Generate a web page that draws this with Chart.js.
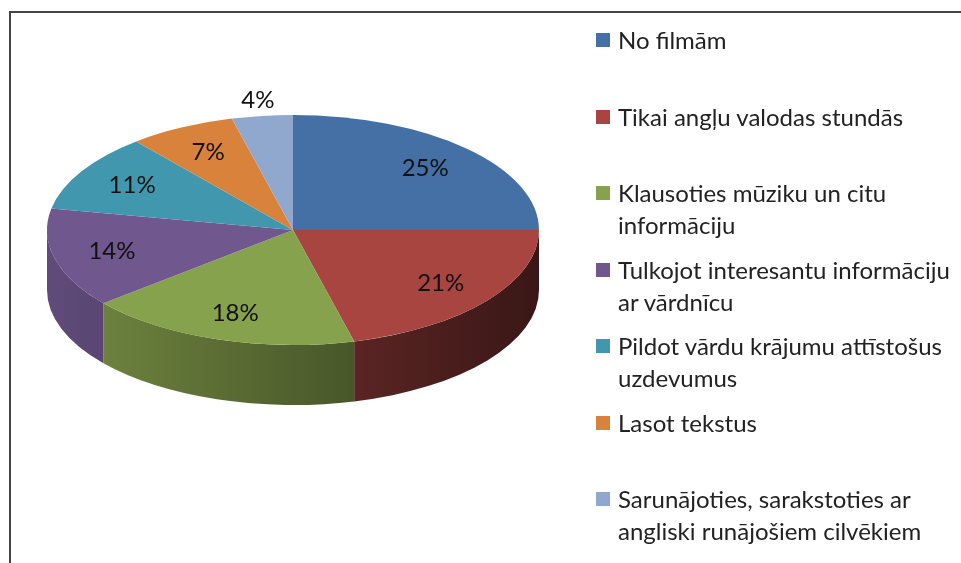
<!DOCTYPE html>
<html>
<head>
<meta charset="utf-8">
<script src="https://cdn.jsdelivr.net/npm/chart.js@4.4.1/dist/chart.umd.min.js"></script>
<style>
  body { margin: 0; background: #fff; }
  #wrap { position: relative; width: 961px; height: 563px; overflow: hidden; }
  #frame { position: absolute; left: 9px; top: 11px; right: -10px; bottom: -10px;
           border-top: 2px solid #444; border-left: 2px solid #444; }
  #pie { position: absolute; left: 0; top: 0; }
  #legend { position: absolute; left: 596px; top: 0; font-family: Lato, sans-serif;
            font-size: 24px; color: #222; }
  .item { position: absolute; left: 0; white-space: nowrap; line-height: 32px; }
  .sw { position: absolute; left: 0; top: 9px; width: 14px; height: 14px; }
  .txt { position: absolute; left: 22px; top: 0; }
</style>
</head>
<body>
<div id="wrap">
  <div id="frame"></div>
  <canvas id="pie" width="961" height="563"></canvas>
  <div id="legend"></div>
</div>
<script>
const categories = [
    ['No filmām'],
    ['Tikai angļu valodas stundās'],
    ['Klausoties mūziku un citu', 'informāciju'],
    ['Tulkojot interesantu informāciju', 'ar vārdnīcu'],
    ['Pildot vārdu krājumu attīstošus', 'uzdevumus'],
    ['Lasot tekstus'],
    ['Sarunājoties, sarakstoties ar', 'angliski runājošiem cilvēkiem']
];
const percents = [25, 21, 18, 14, 11, 7, 4];
const colors = ['#4470a6', '#a94541', '#87a24d', '#70578e', '#4197ae', '#d9823c', '#91a8ce'];

// where the tilted pie sits on the page
const TILT = { cx: 293, cy: 230, rx: 246, ry: 115, depth: 60 };

function shade(hex, f) {
    const n = parseInt(hex.slice(1), 16);
    const r = Math.round(((n >> 16) & 255) * f);
    const g = Math.round(((n >> 8) & 255) * f);
    const b = Math.round((n & 255) * f);
    return 'rgb(' + r + ',' + g + ',' + b + ')';
}

const tiltPlugin = {
    id: 'tilt',
    beforeDatasetsDraw(chart) {
        const ctx = chart.ctx;
        const arcs = chart.getDatasetMeta(0).data;
        const x = arcs[0].x, y = arcs[0].y, r = arcs[0].outerRadius;
        const sx = TILT.rx / r, sy = TILT.ry / r;
        ctx.save();
        ctx.translate(TILT.cx, TILT.cy);
        ctx.scale(sx, sy);
        ctx.translate(-x, -y);
        const D = TILT.depth / sy;
        // side walls, only the front half is visible
        arcs.forEach((arc, i) => {
            const a0 = Math.max(arc.startAngle, 0);
            const a1 = Math.min(arc.endAngle, Math.PI);
            if (a1 <= a0) return;
            const g = ctx.createLinearGradient(x - r, 0, x + r, 0);
            g.addColorStop(0, shade(colors[i], 0.86));
            g.addColorStop(1, shade(colors[i], 0.34));
            ctx.beginPath();
            ctx.arc(x, y, r, a0, a1);
            ctx.arc(x, y + D, r, a1, a0, true);
            ctx.closePath();
            ctx.fillStyle = g;
            ctx.fill();
        });
    },
    afterDatasetsDraw(chart) {
        const ctx = chart.ctx;
        ctx.restore();
        const arcs = chart.getDatasetMeta(0).data;
        ctx.save();
        ctx.font = '24px Lato, sans-serif';
        ctx.fillStyle = '#111';
        ctx.textAlign = 'center';
        ctx.textBaseline = 'middle';
        arcs.forEach((arc, i) => {
            const m = (arc.startAngle + arc.endAngle) / 2;
            const f = percents[i] < 5 ? 1.14 : 0.76;
            const lx = TILT.cx + TILT.rx * f * Math.cos(m);
            const ly = TILT.cy + TILT.ry * f * Math.sin(m);
            ctx.fillText(percents[i] + '%', lx, ly);
        });
        ctx.restore();
    }
};

new Chart(document.getElementById('pie'), {
    type: 'pie',
    data: {
        labels: categories,
        datasets: [{
            data: percents,
            backgroundColor: colors,
            borderWidth: 0,
            hoverOffset: 0,
            clip: false
        }]
    },
    options: {
        responsive: false,
        animation: false,
        events: [],
        layout: { padding: { left: 47, right: 422, top: 35, bottom: 36 } },
        plugins: {
            legend: { display: false },
            tooltip: { enabled: false }
        }
    },
    plugins: [tiltPlugin]
});

// legend on the right
const legend = document.getElementById('legend');
categories.forEach((lines, i) => {
    const item = document.createElement('div');
    item.className = 'item';
    item.style.top = (24 + i * 76.5) + 'px';
    const sw = document.createElement('span');
    sw.className = 'sw';
    sw.style.background = colors[i];
    const txt = document.createElement('span');
    txt.className = 'txt';
    txt.innerHTML = lines.join('<br>');
    item.appendChild(sw);
    item.appendChild(txt);
    legend.appendChild(item);
});
</script>
</body>
</html>
